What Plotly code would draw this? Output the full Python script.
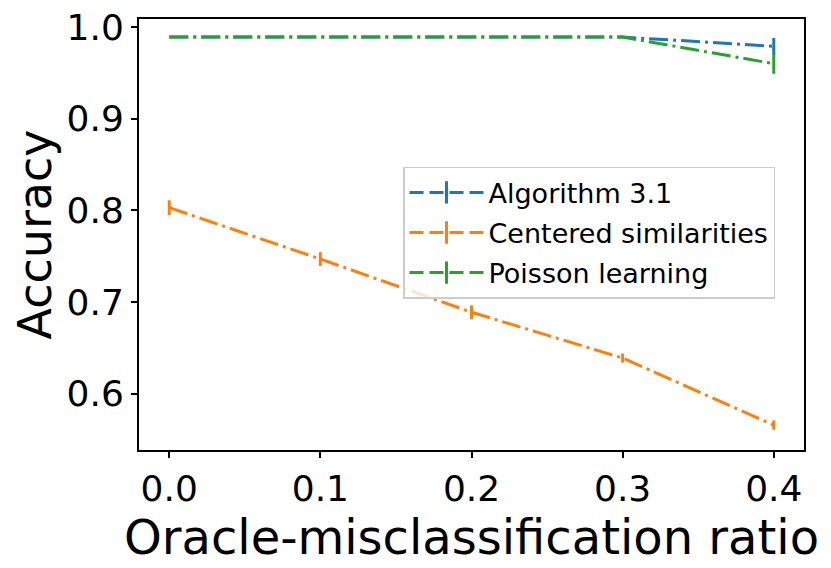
import plotly.graph_objects as go

# oracle-misclassification ratio
ratios = [0.0, 0.1, 0.2, 0.3, 0.4]

algorithm_acc = [0.989, 0.989, 0.989, 0.989, 0.979]
algorithm_err = [0.0, 0.0, 0.0, 0.0, 0.009]

centered_acc = [0.803, 0.747, 0.689, 0.639, 0.566]
centered_err = [0.008, 0.0075, 0.0075, 0.005, 0.005]

poisson_acc = [0.989, 0.989, 0.989, 0.989, 0.960]
poisson_err = [0.0, 0.0, 0.0, 0.0, 0.011]

series = [
    ("Algorithm 3.1", algorithm_acc, algorithm_err, "#1f77b4"),
    ("Centered similarities", centered_acc, centered_err, "#ff7f0e"),
    ("Poisson learning", poisson_acc, poisson_err, "#2ca02c"),
]

FONT = "DejaVu Sans"
DASH = "19px,5px,3px,5px"

fig = go.Figure()

for name, acc, err, color in series:
    fig.add_trace(
        go.Scatter(
            x=ratios,
            y=acc,
            mode="lines",
            line=dict(color=color, width=3, dash=DASH),
            error_y=dict(type="data", array=err, color=color, thickness=3, width=0),
            showlegend=False,
        )
    )

# legend entries only (line with a vertical bar like matplotlib's errorbar handle)
for i, (name, acc, err, color) in enumerate(series):
    fig.add_trace(
        go.Scatter(
            x=[None],
            y=[None],
            mode="lines+markers",
            name=name,
            legendgroup=str(i),
            line=dict(color=color, width=3, dash="14px,6px"),
            marker=dict(symbol="line-ns", size=16, line=dict(color=color, width=3)),
        )
    )

# the page body adds an 8px offset, so the figure is 8px smaller than the window
fig.update_layout(
    width=823,
    height=560,
    margin=dict(l=131, r=27, t=11, b=118, autoexpand=False),
    paper_bgcolor="white",
    plot_bgcolor="white",
    font=dict(family=FONT, color="black"),
    legend=dict(
        x=0.397,
        y=0.657,
        xanchor="left",
        yanchor="top",
        font=dict(size=27, family=FONT, color="black"),
        bordercolor="#cccccc",
        borderwidth=1.5,
        bgcolor="rgba(255,255,255,0.8)",
        tracegroupgap=2,
        itemwidth=74,
    ),
)

fig.update_xaxes(
    range=[-0.02, 0.42],
    tickvals=ratios,
    ticktext=[f"{v:.1f}" for v in ratios],
    ticks="outside",
    ticklen=6,
    tickwidth=1.5,
    tickcolor="black",
    tickfont=dict(size=36, family=FONT),
    ticklabeloverflow="allow",
    showline=True,
    linecolor="black",
    linewidth=2,
    mirror=True,
    showgrid=False,
    zeroline=False,
    automargin=False,
    title=dict(text="Oracle-misclassification ratio", font=dict(size=48, family=FONT), standoff=6),
)

fig.update_yaxes(
    range=[0.5388, 1.0087],
    tickvals=[0.6, 0.7, 0.8, 0.9, 1.0],
    ticktext=["0.6", "0.7", "0.8", "0.9", "1.0"],
    ticks="outside",
    ticklen=6,
    tickwidth=1.5,
    tickcolor="black",
    tickfont=dict(size=36, family=FONT),
    ticklabeloverflow="allow",
    showline=True,
    linecolor="black",
    linewidth=2,
    mirror=True,
    showgrid=False,
    zeroline=False,
    automargin=False,
    title=dict(text="Accuracy", font=dict(size=46, family=FONT), standoff=10),
)

fig.write_html("out.html")
